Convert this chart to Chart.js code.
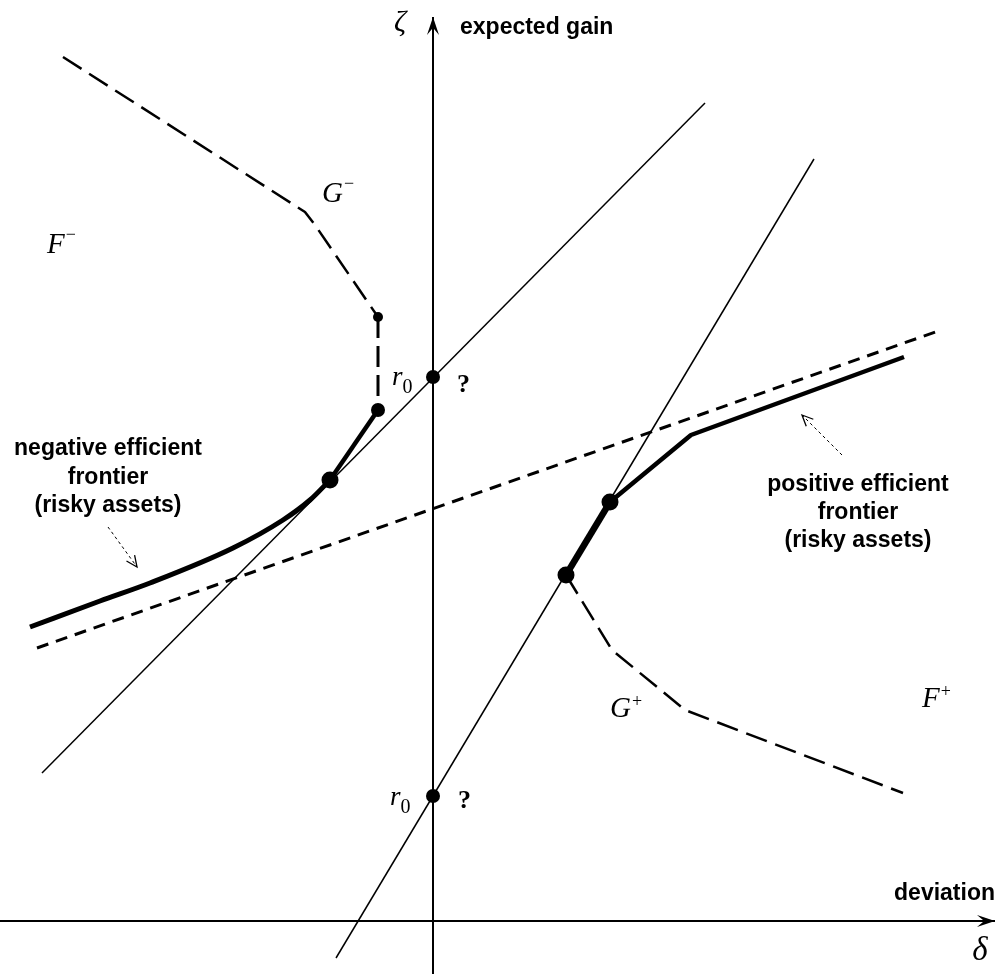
<!DOCTYPE html>
<html>
<head>
<meta charset="utf-8">
<script src="https://cdn.jsdelivr.net/npm/chart.js@4"></script>
<style>
html,body{margin:0;padding:0;background:#fff;}
#wrap{width:1002px;height:974px;}
</style>
</head>
<body>
<div id="wrap"><canvas id="c" width="1002" height="974"></canvas></div>
<script>
// Coordinates: origin at the intersection of the axes (deviation δ, expected gain ζ)
const axisX = [[-433, 0], [562, 0]];
const axisY = [[0, -53], [0, 904]];
const tangentLine1 = [[-391, 148], [272, 818]];
const tangentLine2 = [[-97, -37], [381, 762]];
const dashedLine = [[-396, 273], [508, 591]];
const negFrontierCurve = [[-403, 294], [-333, 320], [-283, 338], [-200, 373], [-150, 401], [-123, 421], [-103, 441]];
const negFrontierStraight = [[-103, 441], [-55, 511]];
const posFrontierSteep = [[133, 346], [177, 419]];
const posFrontierRest = [[177, 419], [258, 486], [471, 564]];
const gMinus = [[-370, 864], [-128, 709], [-118, 696], [-55, 604]];
const gMinusVertical = [[-55, 604], [-55, 511]];
const gPlus = [[133, 346], [179, 271], [252, 211], [470, 128]];
const bigDots = [[-103, 441], [177, 419], [133, 346]];
const midDots = [[0, 544], [0, 125], [-55, 511]];
const smallDots = [[-55, 604]];
const labels = ["ζ", "expected gain", "deviation", "δ", "G", "F", "r", "?"];

const toPts = a => a.map(p => ({x: p[0], y: p[1]}));

function lineDs(pts, width, dash) {
  return {type: 'scatter', data: toPts(pts), showLine: true, borderColor: '#000',
    borderWidth: width, borderDash: dash || [], pointRadius: 0, fill: false,
    borderCapStyle: 'butt', borderJoinStyle: 'round', tension: 0};
}
function dotDs(pts, r) {
  return {type: 'scatter', data: toPts(pts), showLine: false, pointRadius: r,
    pointBackgroundColor: '#000', pointBorderWidth: 0, pointHoverRadius: r};
}

const curve = lineDs(negFrontierCurve, 5);
curve.cubicInterpolationMode = 'monotone';

const annot = {
  id: 'annot',
  afterDatasetsDraw(chart) {
    const ctx = chart.ctx, sx = chart.scales.x, sy = chart.scales.y;
    const P = (x, y) => [sx.getPixelForValue(x), sy.getPixelForValue(y)];
    const serif = '"Liberation Serif", "DejaVu Serif", serif';
    const sans = '"Liberation Sans", Arial, sans-serif';
    ctx.save();
    ctx.fillStyle = '#000'; ctx.strokeStyle = '#000';

    function head(tx, ty, dx, dy, len, hw) {
      const [px, py] = P(tx, ty);
      const nx = -dy, ny = dx;
      ctx.beginPath();
      ctx.moveTo(px, py);
      ctx.lineTo(px - dx * len + nx * hw, py - dy * len + ny * hw);
      ctx.lineTo(px - dx * len * 0.6, py - dy * len * 0.6);
      ctx.lineTo(px - dx * len - nx * hw, py - dy * len - ny * hw);
      ctx.closePath();
      ctx.fill();
    }
    head(axisY[1][0], axisY[1][1], 0, -1, 18, 6);
    head(axisX[1][0], axisX[1][1], 1, 0, 18, 6);

    function txt(s, x, y, font, align, base) {
      const [px, py] = P(x, y);
      ctx.font = font; ctx.textAlign = align || 'left'; ctx.textBaseline = base || 'alphabetic';
      ctx.fillText(s, px, py);
    }
    const bold = 'bold 23px ' + sans;
    txt(labels[0], -33, 898, 'italic 30px ' + serif, 'center', 'middle');
    txt(labels[1], 27, 887, bold, 'left');
    txt(labels[2], 562, 21, bold, 'right');
    txt(labels[3], 547, -30, 'italic 33px ' + serif, 'center', 'middle');

    function sup(base, supS, x, y, off) {
      const [px, py] = P(x, y);
      ctx.font = 'italic 29px ' + serif; ctx.textAlign = 'left'; ctx.textBaseline = 'alphabetic';
      ctx.fillText(base, px, py);
      const w = ctx.measureText(base).width;
      ctx.font = '18px ' + serif;
      ctx.fillText(supS, px + w + 1, py - off);
    }
    sup(labels[4], '\u2212', -111, 719, 13);
    sup(labels[5], '\u2212', -386, 668, 13);
    sup(labels[4], '+', 177, 204, 10);
    sup(labels[5], '+', 489, 214, 10);

    function rsub(x, y) {
      const [px, py] = P(x, y);
      ctx.font = 'italic 27px ' + serif; ctx.textAlign = 'left'; ctx.textBaseline = 'alphabetic';
      ctx.fillText(labels[6], px, py);
      const w = ctx.measureText(labels[6]).width;
      ctx.font = '20px ' + serif;
      ctx.fillText('0', px + w, py + 8);
    }
    rsub(-41, 536);
    rsub(-43, 116);
    txt(labels[7], 24, 529, 'bold 26px ' + serif, 'left');
    txt(labels[7], 25, 113, 'bold 26px ' + serif, 'left');

    const negLines = ['negative efficient', 'frontier', '(risky assets)'];
    [466, 437, 409].forEach((y, i) => txt(negLines[i], -325, y, bold, 'center'));
    const posLines = ['positive efficient', 'frontier', '(risky assets)'];
    [430, 402, 374].forEach((y, i) => txt(posLines[i], 425, y, bold, 'center'));

    function pointer(x1, y1, x2, y2) {
      const [a, b] = P(x1, y1), [c, d] = P(x2, y2);
      ctx.save();
      ctx.lineWidth = 1; ctx.setLineDash([3, 3]);
      ctx.beginPath(); ctx.moveTo(a, b); ctx.lineTo(c, d); ctx.stroke();
      ctx.setLineDash([]);
      const L = Math.hypot(c - a, d - b), ux = (c - a) / L, uy = (d - b) / L;
      ctx.beginPath();
      ctx.moveTo(c - ux * 11 - uy * 5, d - uy * 11 + ux * 5);
      ctx.lineTo(c, d);
      ctx.lineTo(c - ux * 11 + uy * 5, d - uy * 11 - ux * 5);
      ctx.lineWidth = 1.3; ctx.stroke();
      ctx.restore();
    }
    pointer(-325, 394, -296, 354);
    pointer(409, 466, 369, 506);
    ctx.restore();
  }
};

new Chart(document.getElementById('c'), {
  type: 'scatter',
  data: {datasets: [
    lineDs(axisX, 2),
    lineDs(axisY, 2),
    lineDs(tangentLine1, 1.5),
    lineDs(tangentLine2, 1.5),
    lineDs(dashedLine, 3, [12, 8]),
    lineDs(gMinus, 2.5, [22, 9]),
    lineDs(gMinusVertical, 3, [21, 8]),
    lineDs(gPlus, 2.5, [22, 9]),
    curve,
    lineDs(negFrontierStraight, 4.5),
    lineDs(posFrontierSteep, 6.5),
    lineDs(posFrontierRest, 4.5),
    dotDs(bigDots, 8.5),
    dotDs(midDots, 7),
    dotDs(smallDots, 5)
  ]},
  options: {
    responsive: false, animation: false,
    layout: {padding: 0, autoPadding: false},
    plugins: {legend: {display: false}, tooltip: {enabled: false}},
    elements: {line: {clip: false}},
    scales: {
      x: {type: 'linear', min: -433, max: 569, display: false},
      y: {type: 'linear', min: -53, max: 921, display: false}
    }
  },
  plugins: [annot]
});
</script>
</body>
</html>
